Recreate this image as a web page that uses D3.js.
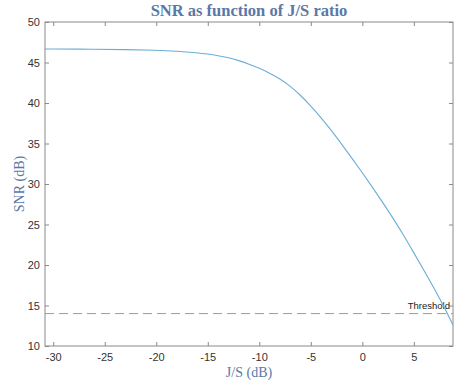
<!DOCTYPE html>
<html>
<head>
<meta charset="UTF-8">
<script src="https://cdn.jsdelivr.net/npm/d3@7"></script>
<style>
  body { margin: 0; background: #fff; }
  text { font-family: "Liberation Sans", Arial, sans-serif; }
</style>
</head>
<body>
<svg width="455" height="385"></svg>
<script>
// data
var jsRatio = [-30.8, -26, -23, -20, -18, -16, -15, -14, -13, -12, -11, -10, -9, -8, -7, -6, -5, -4, -3, -2, -1, 0, 1, 2, 3, 4, 5, 6, 7, 8, 8.8];
var snr     = [46.67, 46.64, 46.6, 46.52, 46.4, 46.2, 46.05, 45.85, 45.6, 45.25, 44.8, 44.3, 43.7, 43.0, 42.1, 40.95, 39.65, 38.2, 36.6, 34.9, 33.18, 31.4, 29.57, 27.68, 25.75, 23.68, 21.5, 19.3, 17.05, 14.65, 12.6];
var threshold = 14;
var xTicks = [-30, -25, -20, -15, -10, -5, 0, 5];
var yTicks = [10, 15, 20, 25, 30, 35, 40, 45, 50];

var svg = d3.select("svg");
var marge = {top: 22, left: 45, right: 453, bottom: 346};

var x = d3.scaleLinear().domain([-30.8, 8.8]).range([marge.left, marge.right]);
var y = d3.scaleLinear().domain([10, 50]).range([marge.bottom, marge.top]);

var axisColor = "#8a8a8a";
var labelColor = "#333";
var blue = "#5a78a8";

// box
svg.append("rect")
  .attr("x", marge.left).attr("y", marge.top)
  .attr("width", marge.right - marge.left)
  .attr("height", marge.bottom - marge.top)
  .attr("fill", "none").attr("stroke", axisColor).attr("stroke-width", 1);

// ticks, pointing inward on all sides
function drawAxis(axis, tx) {
  var g = svg.append("g").attr("transform", tx).call(axis);
  g.select(".domain").remove();
  g.selectAll(".tick line").attr("stroke", axisColor);
  g.selectAll("text").attr("fill", labelColor).style("font-size", "11px");
  return g;
}
var fmt = function(d) { return String(d); };

var xb = drawAxis(d3.axisBottom(x).tickValues(xTicks).tickSizeInner(-4).tickSizeOuter(0).tickFormat(fmt),
  "translate(0," + marge.bottom + ")");
xb.selectAll("text").attr("y", 7);
drawAxis(d3.axisTop(x).tickValues(xTicks).tickSizeInner(-4).tickSizeOuter(0).tickFormat(""),
  "translate(0," + marge.top + ")");
var yl = drawAxis(d3.axisLeft(y).tickValues(yTicks).tickSizeInner(-4).tickSizeOuter(0).tickFormat(fmt),
  "translate(" + marge.left + ",0)");
yl.selectAll("text").attr("x", -5);
drawAxis(d3.axisRight(y).tickValues(yTicks).tickSizeInner(-4).tickSizeOuter(0).tickFormat(""),
  "translate(" + marge.right + ",0)");

// threshold
svg.append("line")
  .attr("x1", marge.left).attr("x2", marge.right)
  .attr("y1", y(threshold)).attr("y2", y(threshold))
  .attr("stroke", "#9a9a9a").attr("stroke-width", 1)
  .attr("stroke-dasharray", "9,5");
svg.append("text")
  .attr("x", 450).attr("y", y(threshold) - 5)
  .attr("text-anchor", "end")
  .attr("fill", "#222")
  .style("font-size", "9.5px")
  .text("Threshold");

// curve
var pts = jsRatio.map(function(d, i) { return [d, snr[i]]; });
var line = d3.line()
  .x(function(d) { return x(d[0]); })
  .y(function(d) { return y(d[1]); })
  .curve(d3.curveBasis);
svg.append("path")
  .datum(pts)
  .attr("d", line)
  .attr("fill", "none")
  .attr("stroke", "#6aaed6")
  .attr("stroke-width", 1.1);

// title and labels
svg.append("text")
  .attr("x", (marge.left + marge.right) / 2).attr("y", 16)
  .attr("text-anchor", "middle")
  .attr("fill", blue)
  .style("font-family", "'Liberation Serif', 'DejaVu Serif', serif")
  .style("font-weight", "bold")
  .style("font-size", "16.5px")
  .text("SNR as function of J/S ratio");
svg.append("text")
  .attr("x", (marge.left + marge.right) / 2).attr("y", 377)
  .attr("text-anchor", "middle")
  .attr("fill", blue)
  .style("font-family", "'Liberation Serif', 'DejaVu Serif', serif")
  .style("font-size", "14px")
  .text("J/S (dB)");
svg.append("text")
  .attr("transform", "translate(24," + ((marge.top + marge.bottom) / 2) + ") rotate(-90)")
  .attr("text-anchor", "middle")
  .attr("fill", blue)
  .style("font-family", "'Liberation Serif', 'DejaVu Serif', serif")
  .style("font-size", "14px")
  .text("SNR (dB)");
</script>
</body>
</html>
